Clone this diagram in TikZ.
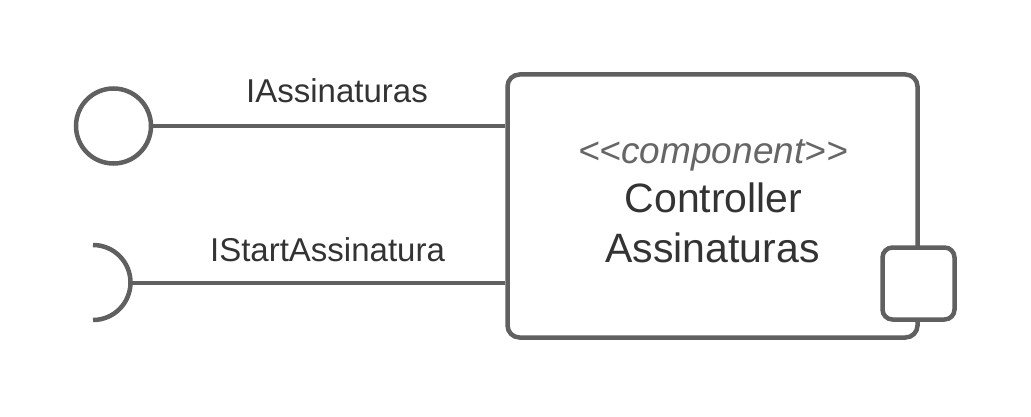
\documentclass[tikz,border=0pt]{standalone}
\usepackage{fontspec}
\setmainfont{Liberation Sans}
\definecolor{linegray}{HTML}{606060}
\definecolor{textdark}{HTML}{333333}
\definecolor{stereo}{HTML}{666666}
\begin{document}
\begin{tikzpicture}[x=1pt,y=1pt,
  umlline/.style={draw=linegray,line width=4.5pt},
  conn/.style={draw=linegray,line width=4pt},
  lbl/.style={text=textdark,inner sep=0pt,anchor=base,font=\fontsize{33}{39}\selectfont},
  comptext/.style={text=textdark,inner sep=0pt,anchor=base,font=\fontsize{41}{48}\selectfont},
  stereotext/.style={text=stereo,inner sep=0pt,anchor=base,font=\fontsize{37}{44}\selectfont\itshape}]
\useasboundingbox[fill=white] (0,0) rectangle (1031,416);
% component box
\node[umlline,fill=white,rectangle,rounded corners=12pt,minimum width=410pt,minimum height=263pt,inner sep=0pt] (comp) at (712.5,210) {};
% port square
\node[umlline,fill=white,rectangle,rounded corners=10pt,minimum width=72pt,minimum height=72pt,inner sep=0pt] (port) at (918.5,132.5) {};
% provided interface (lollipop)
\node[umlline,circle,minimum size=75pt,inner sep=0pt,outer sep=0pt] (prov) at (113.5,290) {};
% required interface (socket)
\coordinate (sock) at (131,133.5);
\draw[umlline] (93,171) arc[start angle=90,end angle=-90,radius=37.5pt];
% connectors
\draw[conn] (prov.east) -- (prov.east -| comp.west);
\draw[conn] (sock) -- (sock -| comp.west);
% labels
\node[lbl] (l1) at (337,313) {IAssinaturas};
\node[lbl] (l2) at (327.5,155) {IStartAssinatura};
\node[stereotext] (st) at (713,253) {{<}{<}component{>}{>}};
\node[comptext] (n1) at (713.5,204) {Controller};
\node[comptext] (n2) at (712.5,154) {Assinaturas};
\end{tikzpicture}
\end{document}
